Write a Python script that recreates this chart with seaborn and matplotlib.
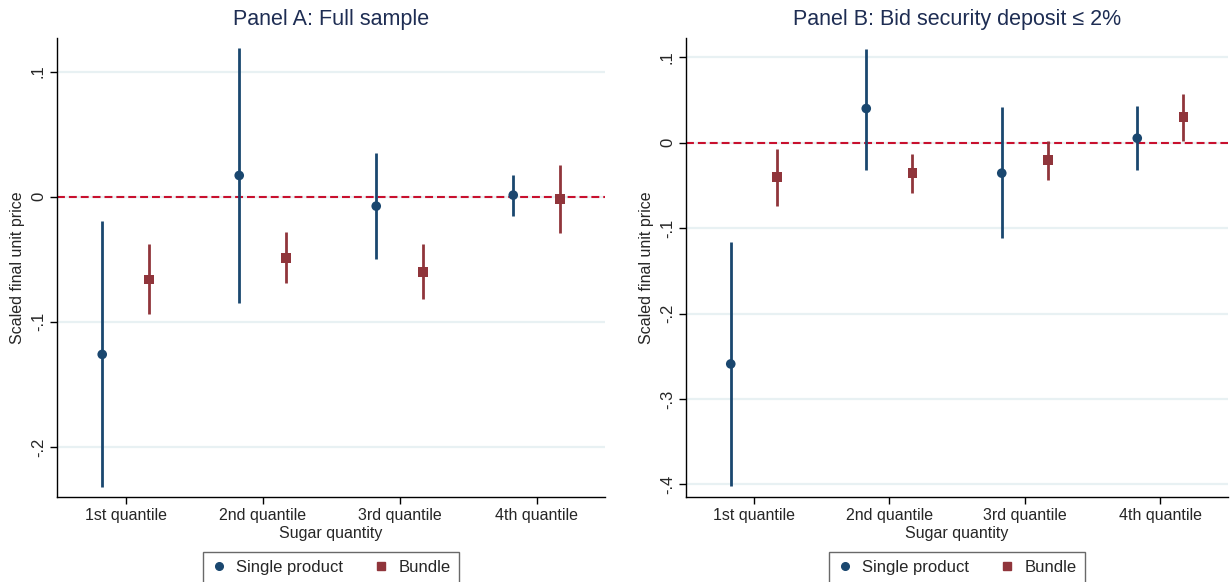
import matplotlib
matplotlib.use("Agg")
import matplotlib.pyplot as plt
import seaborn as sns
import pandas as pd
import numpy as np
from matplotlib.lines import Line2D

sns.set_theme(style="white")
plt.rcParams['font.family'] = ['Liberation Sans', 'DejaVu Sans']

quantiles = ["1st quantile", "2nd quantile", "3rd quantile", "4th quantile"]
groups = ["Single product", "Bundle"]

# Panel A: Full sample
a_single = [-0.126, 0.017, -0.0075, 0.0013]
a_single_lo = [-0.232, -0.085, -0.050, -0.0157]
a_single_hi = [-0.0197, 0.119, 0.035, 0.0176]
a_bundle = [-0.066, -0.049, -0.060, -0.002]
a_bundle_lo = [-0.094, -0.069, -0.082, -0.0286]
a_bundle_hi = [-0.038, -0.028, -0.038, 0.025]

# Panel B: Bid security deposit <= 2%
b_single = [-0.259, 0.0398, -0.0358, 0.0051]
b_single_lo = [-0.402, -0.0316, -0.112, -0.0327]
b_single_hi = [-0.1165, 0.110, 0.0418, 0.043]
b_bundle = [-0.040, -0.0358, -0.0206, 0.0297]
b_bundle_lo = [-0.0737, -0.0585, -0.0444, 0.002]
b_bundle_hi = [-0.0074, -0.0132, 0.002, 0.0566]

NAVY = "#1a476f"
MAROON = "#90353b"
REDLINE = "#c8102e"
GRID = "#e8f1f3"
TITLE = "#1e2d53"

def build(single, slo, shi, bundle, blo, bhi):
    rows = []
    for i, q in enumerate(quantiles):
        rows.append(dict(q=q, x=i + 1 - 0.17, group="Single product", est=single[i], lo=slo[i], hi=shi[i]))
        rows.append(dict(q=q, x=i + 1 + 0.17, group="Bundle", est=bundle[i], lo=blo[i], hi=bhi[i]))
    return pd.DataFrame(rows)

dfA = build(a_single, a_single_lo, a_single_hi, a_bundle, a_bundle_lo, a_bundle_hi)
dfB = build(b_single, b_single_lo, b_single_hi, b_bundle, b_bundle_lo, b_bundle_hi)

fig = plt.figure(figsize=(12.31, 5.82), dpi=100)
axA = fig.add_axes([0.0463, 0.146, 0.4452, 0.789])
axB = fig.add_axes([0.5573, 0.146, 0.4403, 0.789])

palette = {"Single product": NAVY, "Bundle": MAROON}
markers = {"Single product": "o", "Bundle": "s"}

def draw(ax, df, title, ylim, yticks, yticklabels):
    for y in yticks:
        ax.axhline(y, color=GRID, lw=1.6, zorder=0)
    ax.axhline(0, color=REDLINE, lw=1.5, ls=(0, (3.8, 1.9)), zorder=1)
    for g in groups:
        sub = df[df.group == g]
        ax.vlines(sub.x, sub.lo, sub.hi, color=palette[g], lw=2.0, zorder=2)
    sns.scatterplot(data=df, x="x", y="est", hue="group", style="group",
                    palette=palette, markers=markers, s=48, linewidth=0,
                    ax=ax, legend=False, zorder=3)
    ax.set_xlim(0.5, 4.5)
    ax.set_ylim(*ylim)
    ax.set_xticks([1, 2, 3, 4])
    ax.set_xticklabels(quantiles, fontsize=11.5)
    ax.set_yticks(yticks)
    ax.set_yticklabels(yticklabels, rotation=90, va="center", fontsize=12)
    ax.set_xlabel("Sugar quantity", fontsize=11.5, labelpad=2)
    ax.set_ylabel("Scaled final unit price", fontsize=11.5, labelpad=4)
    ax.set_title(title, fontsize=15.5, color=TITLE, pad=9)
    for s in ["top", "right"]:
        ax.spines[s].set_visible(False)
    for s in ["left", "bottom"]:
        ax.spines[s].set_color("black")
        ax.spines[s].set_linewidth(1.0)
    ax.tick_params(axis="both", which="both", direction="out", length=5, width=1, color="black",
                   bottom=True, left=True, pad=3)
    handles = [Line2D([], [], marker="o", color=NAVY, ls="none", markersize=5.5),
               Line2D([], [], marker="s", color=MAROON, ls="none", markersize=5.5)]
    pos = ax.get_position()
    fig.legend(handles, groups, loc="center", ncol=2, fontsize=12,
               bbox_to_anchor=((pos.x0 + pos.x1) / 2, 0.025),
               frameon=True, fancybox=False, edgecolor="#444444",
               handletextpad=0.6, columnspacing=1.8, borderpad=0.5, handlelength=0.9,
               borderaxespad=0.0)

draw(axA, dfA, "Panel A: Full sample", (-0.24, 0.127),
     [-0.2, -0.1, 0, 0.1], ["-.2", "-.1", "0", ".1"])
draw(axB, dfB, "Panel B: Bid security deposit \u2264 2%", (-0.4147, 0.1225),
     [-0.4, -0.3, -0.2, -0.1, 0, 0.1], ["-.4", "-.3", "-.2", "-.1", "0", ".1"])

fig.savefig("out.png", dpi=100, facecolor="white")
